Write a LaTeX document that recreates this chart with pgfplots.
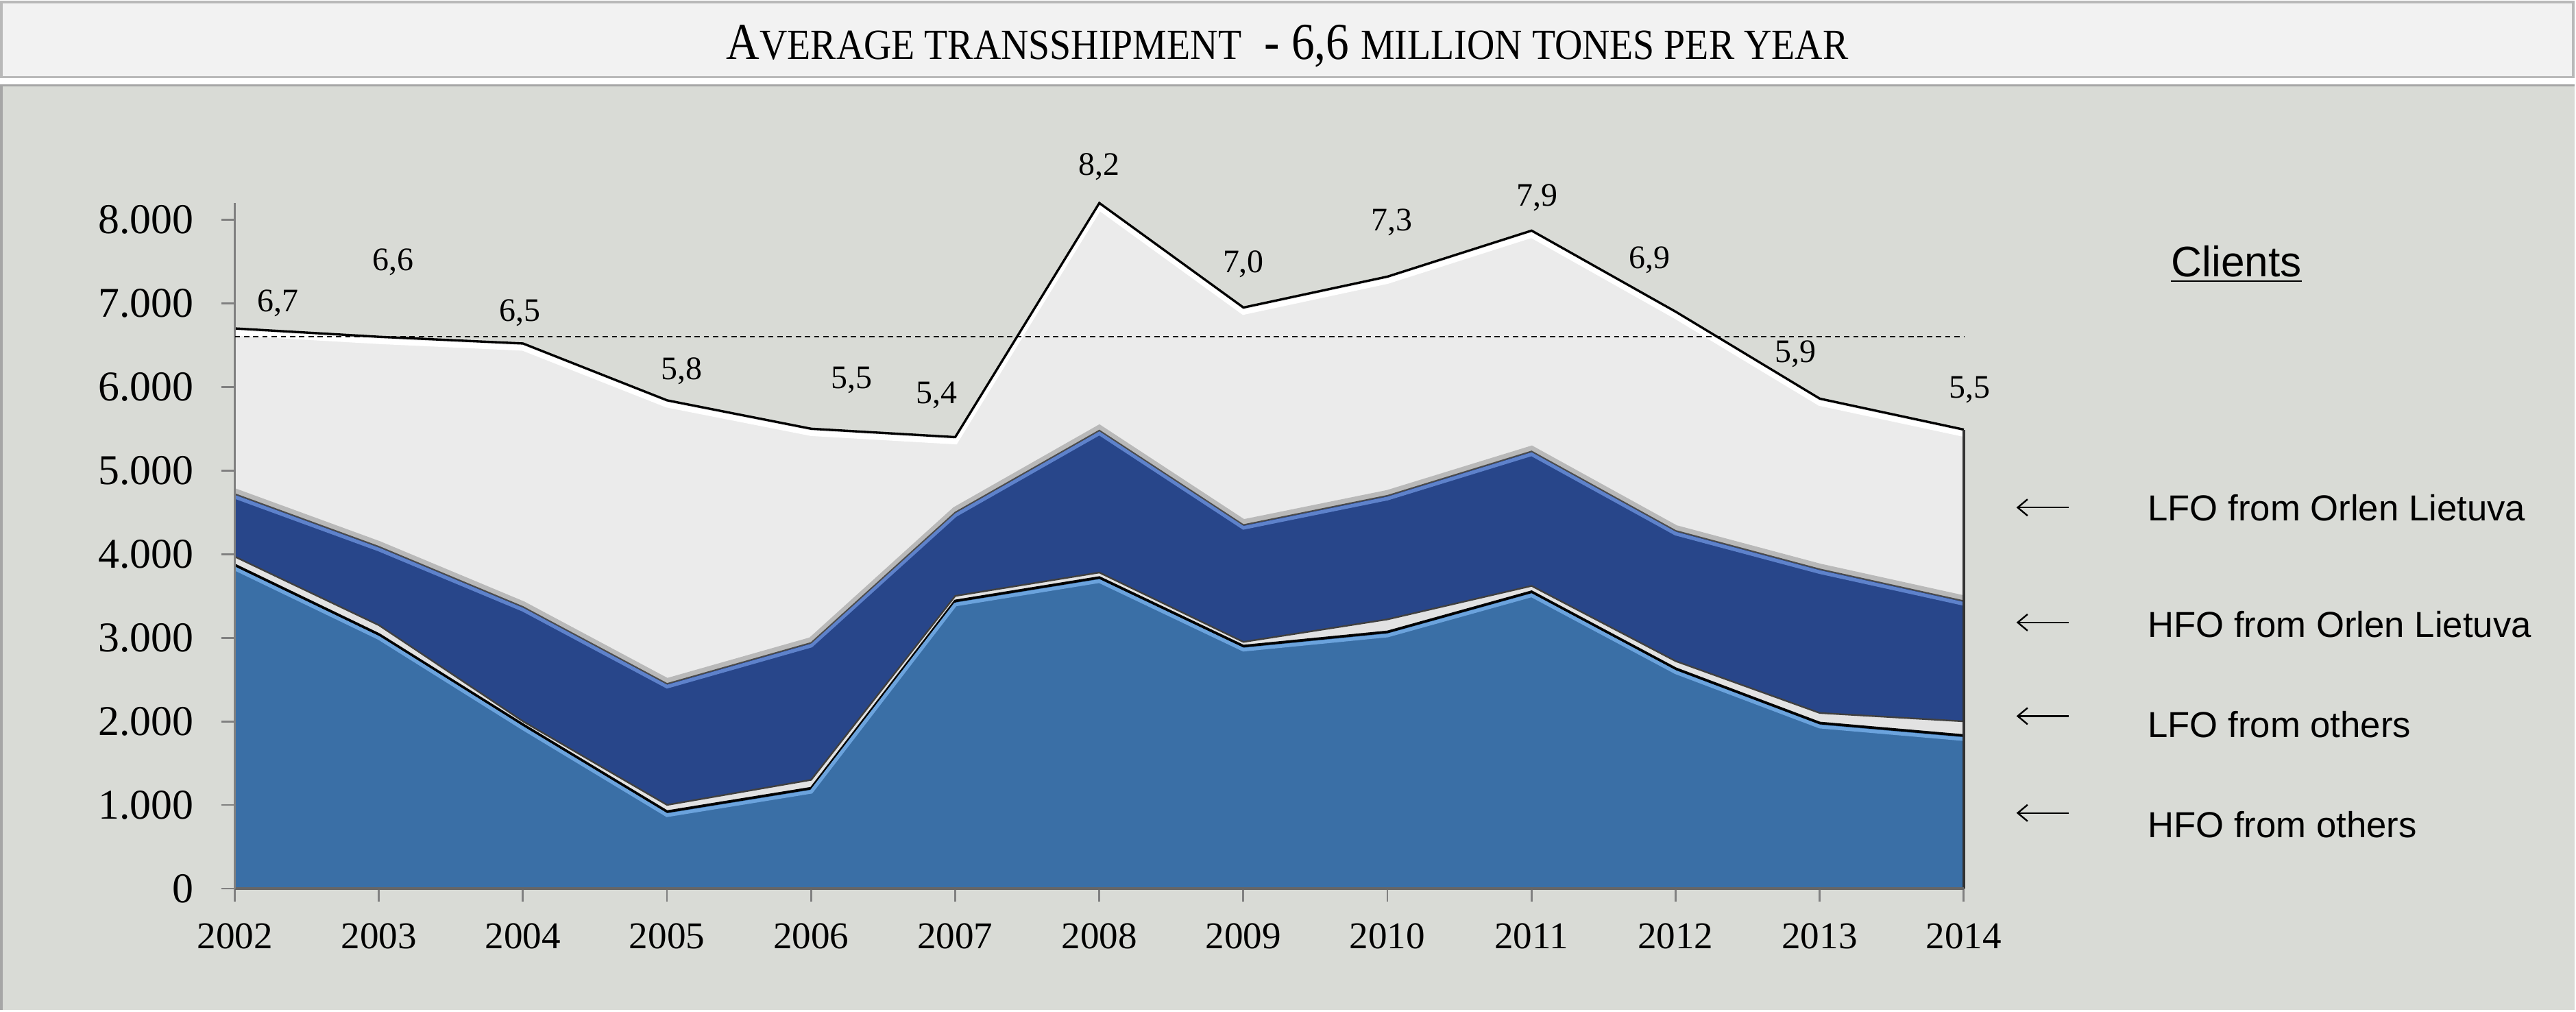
\documentclass[border=0pt]{standalone}
\usepackage{fontspec}
\setmainfont{Liberation Serif}
\newfontfamily\sansf{Liberation Sans}
\usepackage{graphicx}
\usepackage{pgfplots}
\usepackage{pgfplotstable}
\pgfplotsset{compat=1.18}
\usetikzlibrary{arrows.meta}

\definecolor{bgc}{HTML}{D9DBD6}
\definecolor{titlebg}{HTML}{F2F2F2}
\definecolor{hfoo}{HTML}{3A6FA6}
\definecolor{hfooedge}{HTML}{6BA3DD}
\definecolor{navy}{HTML}{28468A}
\definecolor{navyedge}{HTML}{5E82CB}
\definecolor{lfoo}{HTML}{E2E2E2}
\definecolor{lfol}{HTML}{EBEBEB}

% individual layers (thousand tonnes)
\pgfplotstableread{
year hfoo lfoo hfol lfol
2002 3870 100  750 1980
2003 3040 110  940 2510
2004 1960  40 1370 3150
2005  920  80 1450 3390
2006 1200 100 1640 2560
2007 3440  60 1000  900
2008 3720  60 1700 2720
2009 2900  50 1400 2600
2010 3070 150 1480 2620
2011 3550  70 1610 2640
2012 2630  90 1560 2620
2013 1980 120 1720 2040
2014 1830 170 1440 2050
}\data

\newcommand{\BC}[1]{{\fontsize{15.8}{18}\selectfont #1}}
\newcommand{\SC}[1]{{\fontsize{13.1}{16}\selectfont #1}}

\begin{document}
\begin{tikzpicture}
% backgrounds
\fill[white] (0pt,0pt) rectangle (784pt,307.5pt);
\fill[bgc] (0pt,0pt) rectangle (784pt,281.5pt);
\draw[gray!70, line width=0.8pt] (0.4pt,0pt) -- (0.4pt,281.5pt) -- (784pt,281.5pt);
\filldraw[fill=titlebg, draw=gray!55, line width=0.8pt] (0.5pt,284pt) rectangle (783.5pt,306.8pt);
\node[anchor=base] at (392pt,289.5pt) {\scalebox{0.89}[1]{\BC{A}\SC{VERAGE TRANSSHIPMENT}\BC{\ \ - 6,6 }\SC{MILLION TONES PER YEAR}}};

\begin{axis}[
  at={(71.5pt,37pt)}, anchor=south west,
  scale only axis, width=526.5pt, height=208.7pt,
  xmin=2002, xmax=2014, ymin=0, ymax=8200,
  clip=false,
  axis x line*=bottom, axis y line*=left,
  axis line style={gray, line width=0.6pt, -},
  tick align=outside,
  major tick length=4pt,
  major tick style={gray, line width=0.6pt},
  xtick={2002,...,2014},
  ytick={0,1000,...,8000},
  /pgf/number format/assume math mode=true,
  x tick label style={/pgf/number format/1000 sep={}, font=\fontsize{11.5}{13}\selectfont, yshift=-3pt},
  y tick label style={/pgf/number format/1000 sep={.}, font=\fontsize{12.9}{14}\selectfont, xshift=-5pt},
]
% total (LFO from Orlen Lietuva on top)
\addplot[fill=lfol, draw=none] table[x=year, y expr=\thisrow{hfoo}+\thisrow{lfoo}+\thisrow{hfol}+\thisrow{lfol}] {\data} \closedcycle;
% soft shadow above navy
\addplot[gray!55, line width=2pt, yshift=0.7pt] table[x=year, y expr=\thisrow{hfoo}+\thisrow{lfoo}+\thisrow{hfol}] {\data};
% HFO from Orlen Lietuva
\addplot[fill=navy, draw=none] table[x=year, y expr=\thisrow{hfoo}+\thisrow{lfoo}+\thisrow{hfol}] {\data} \closedcycle;
\addplot[navyedge, line width=1.1pt, yshift=-0.9pt] table[x=year, y expr=\thisrow{hfoo}+\thisrow{lfoo}+\thisrow{hfol}] {\data};
\addplot[black!70, line width=0.4pt] table[x=year, y expr=\thisrow{hfoo}+\thisrow{lfoo}+\thisrow{hfol}] {\data};
% LFO from others
\addplot[fill=lfoo, draw=none] table[x=year, y expr=\thisrow{hfoo}+\thisrow{lfoo}] {\data} \closedcycle;
\addplot[black!75, line width=0.5pt] table[x=year, y expr=\thisrow{hfoo}+\thisrow{lfoo}] {\data};
% HFO from others
\addplot[fill=hfoo, draw=none] table[x=year, y=hfoo] {\data} \closedcycle;
\addplot[black, line width=0.8pt] table[x=year, y=hfoo] {\data};
\addplot[hfooedge, line width=1.1pt, yshift=-1.1pt] table[x=year, y=hfoo] {\data};
% total line with highlight
\addplot[white, line width=1.6pt, yshift=-1.4pt] table[x=year, y expr=\thisrow{hfoo}+\thisrow{lfoo}+\thisrow{hfol}+\thisrow{lfol}] {\data};
\addplot[black, line width=0.7pt] table[x=year, y expr=\thisrow{hfoo}+\thisrow{lfoo}+\thisrow{hfol}+\thisrow{lfol}] {\data};
% right edge and bottom
\draw[black!80, line width=0.7pt] (axis cs:2014,0) -- (axis cs:2014,5490);
\draw[black!60, line width=0.7pt] (axis cs:2002,0) -- (axis cs:2014,0);
\draw[gray, line width=0.6pt] (axis cs:2002,0) -- (axis cs:2002,8190);
% average
\addplot[black, line width=0.5pt, dash pattern=on 1.6pt off 1.2pt] coordinates {(2002,6600) (2014,6600)};
% value labels
\begin{scope}[every node/.style={font=\fontsize{10}{11}\selectfont}]
\node at (axis cs:2002.30,7000) {6,7};
\node at (axis cs:2003.10,7490) {6,6};
\node at (axis cs:2003.98,6890) {6,5};
\node at (axis cs:2005.10,6190) {5,8};
\node at (axis cs:2006.28,6080) {5,5};
\node at (axis cs:2006.87,5900) {5,4};
\node at (axis cs:2008.00,8630) {8,2};
\node at (axis cs:2009.00,7470) {7,0};
\node at (axis cs:2010.03,7970) {7,3};
\node at (axis cs:2011.04,8260) {7,9};
\node at (axis cs:2011.82,7520) {6,9};
\node at (axis cs:2012.83,6390) {5,9};
\node at (axis cs:2014.04,5970) {5,5};
\end{scope}
\end{axis}

% right-hand labels
\node[font=\sansf\fontsize{13}{15}\selectfont] at (681pt,227pt) {\underline{Clients}};
\begin{scope}[font=\sansf\fontsize{11}{13}\selectfont]
\node[anchor=west] at (650.5pt,153pt) {LFO from Orlen Lietuva};
\node[anchor=west] at (650.5pt,117.5pt) {HFO from Orlen Lietuva};
\node[anchor=west] at (650.5pt,87pt) {LFO from others};
\node[anchor=west] at (650.5pt,56.5pt) {HFO from others};
\end{scope}
\begin{scope}[line width=0.5pt, -{Straight Barb[length=3pt, width=5pt]}]
\draw (630pt,153pt) -- (614pt,153pt);
\draw (630pt,118pt) -- (614pt,118pt);
\draw (630pt,89.5pt) -- (614pt,89.5pt);
\draw (630pt,60pt) -- (614pt,60pt);
\end{scope}
\end{tikzpicture}
\end{document}
